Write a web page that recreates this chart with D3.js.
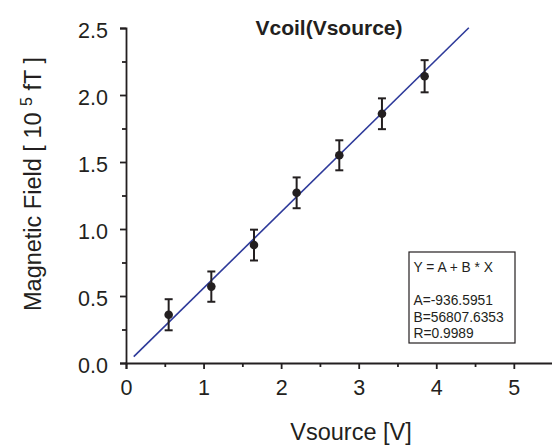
<!DOCTYPE html>
<html>
<head>
<meta charset="utf-8">
<script src="https://cdn.jsdelivr.net/npm/d3@7"></script>
<style>
  body { margin: 0; background: #fff; }
  text { font-family: "Liberation Sans", Arial, Helvetica, sans-serif; fill: #231f20; }
</style>
</head>
<body>
<div id="chart"></div>
<script>
// measured values, field in 10^5 fT
const vsource = [0.55, 1.10, 1.65, 2.20, 2.75, 3.30, 3.85];
const field = [0.36, 0.57, 0.88, 1.27, 1.55, 1.86, 2.14];
const fieldErr = [0.116, 0.113, 0.115, 0.115, 0.112, 0.115, 0.12];

// linear fit Y = A + B*X  (A, B in fT, converted to 10^5 fT)
const fitA = -936.5951, fitB = 56807.6353, fitR = 0.9989;
const fitRange = [0.1, 4.42];

const xTicks = [0, 1, 2, 3, 4, 5];
const yTicks = [0.0, 0.5, 1.0, 1.5, 2.0, 2.5];

const legendLines = ["Y = A + B * X", "", "A=" + fitA, "B=" + fitB, "R=" + fitR];

const width = 552, height = 446;
const margin = {top: 28, right: 0, bottom: 83, left: 126};

let svg = d3.select("#chart")
    .append("svg")
    .attr("width", width)
    .attr("height", height);

let x = d3.scaleLinear()
    .domain([0, 5.5])
    .range([margin.left, 552.6]);

let y = d3.scaleLinear()
    .domain([0, 2.5])
    .range([height - margin.bottom, margin.top]);

const axisColor = "#231f20";

// x axis, minor ticks first then major
let xAxisG = svg.append("g")
    .attr("transform", `translate(0, ${y(0)})`);
xAxisG.append("g")
    .call(d3.axisBottom(x).tickValues(d3.range(0.5, 5.5, 1)).tickSize(4).tickFormat(""))
    .call(g => g.select(".domain").remove());
xAxisG.append("g")
    .call(d3.axisBottom(x).tickValues(xTicks).tickSize(6).tickPadding(11).tickFormat(d3.format("d")));
xAxisG.selectAll("line, path").attr("stroke", axisColor).attr("stroke-width", 1.8);
xAxisG.selectAll("text").style("font-size", "21.5px").attr("fill", axisColor);

// y axis
let yAxisG = svg.append("g")
    .attr("transform", `translate(${x(0)}, 0)`);
yAxisG.append("g")
    .call(d3.axisLeft(y).tickValues(d3.range(0.25, 2.5, 0.5)).tickSize(4).tickFormat(""))
    .call(g => g.select(".domain").remove());
yAxisG.append("g")
    .call(d3.axisLeft(y).tickValues(yTicks).tickSize(6).tickSizeOuter(6).tickPadding(12).tickFormat(d3.format(".1f")));
yAxisG.selectAll("line, path").attr("stroke", axisColor).attr("stroke-width", 1.8);
yAxisG.selectAll("text").style("font-size", "21.5px").attr("fill", axisColor).attr("dy", "0.42em");

// fit line
let line = d3.line()
    .x(d => x(d))
    .y(d => y((fitA + fitB * d) / 1e5));

svg.append("path")
    .datum(fitRange)
    .attr("d", line)
    .attr("fill", "none")
    .attr("stroke", "#2e3a9a")
    .attr("stroke-width", 1.6);

let pts = vsource.map((v, i) => ({x: v, y: field[i], e: fieldErr[i]}));

// error bars
let bars = svg.append("g").attr("stroke", "#231f20").attr("stroke-width", 2);
bars.selectAll("line.v").data(pts).enter().append("line")
    .attr("x1", d => x(d.x)).attr("x2", d => x(d.x))
    .attr("y1", d => y(d.y - d.e)).attr("y2", d => y(d.y + d.e));
bars.selectAll("line.top").data(pts).enter().append("line")
    .attr("x1", d => x(d.x) - 4).attr("x2", d => x(d.x) + 4)
    .attr("y1", d => y(d.y + d.e)).attr("y2", d => y(d.y + d.e));
bars.selectAll("line.bot").data(pts).enter().append("line")
    .attr("x1", d => x(d.x) - 4).attr("x2", d => x(d.x) + 4)
    .attr("y1", d => y(d.y - d.e)).attr("y2", d => y(d.y - d.e));

svg.append("g").selectAll("circle").data(pts).enter().append("circle")
    .attr("cx", d => x(d.x))
    .attr("cy", d => y(d.y))
    .attr("r", 4.3)
    .attr("fill", "#231f20");

// legend box
let lg = svg.append("g").attr("transform", "translate(409, 252)");
lg.append("rect")
    .attr("width", 106).attr("height", 91)
    .attr("fill", "#fff").attr("stroke", "#231f20").attr("stroke-width", 1.2);
lg.selectAll("text").data(legendLines).enter().append("text")
    .attr("x", 4.5)
    .attr("y", (d, i) => i == 0 ? 20 : 53 + (i - 2) * 16.7)
    .style("font-size", "13.8px")
    .text(d => d);

// title
svg.append("text")
    .attr("x", 329).attr("y", 35)
    .style("text-anchor", "middle")
    .style("font-size", "21px")
    .style("font-weight", "bold")
    .text("Vcoil(Vsource)");

// x label
svg.append("text")
    .attr("x", 351).attr("y", 440)
    .style("text-anchor", "middle")
    .style("font-size", "23.5px")
    .text("Vsource [V]");

// y label with superscript
let yl = svg.append("text")
    .attr("transform", "translate(41, 184) rotate(-90)")
    .style("text-anchor", "middle")
    .style("font-size", "23.5px");
yl.append("tspan").text("Magnetic Field [ 10 ");
yl.append("tspan").attr("dy", -9).style("font-size", "16px").text("5");
yl.append("tspan").attr("dy", 9).text(" fT ]");
</script>
</body>
</html>
